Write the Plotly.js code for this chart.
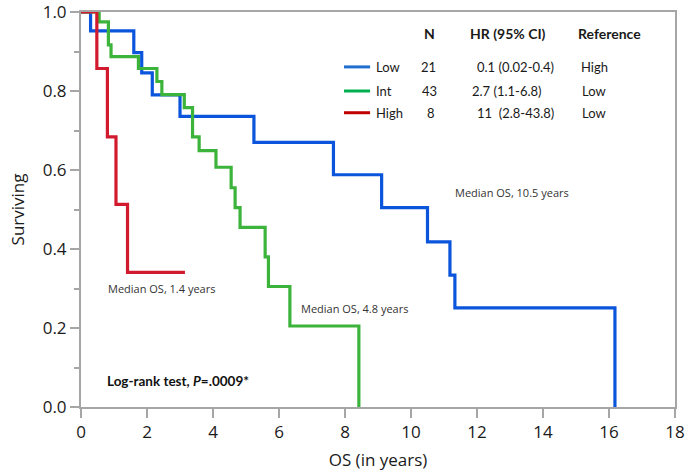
<!DOCTYPE html>
<html>
<head>
<meta charset="utf-8">
<script src="https://cdn.plot.ly/plotly-3.0.1.min.js"></script>
<style>
  html, body { margin: 0; padding: 0; background: #fff; }
  #chart { width: 685px; height: 472px; }
</style>
</head>
<body>
<div id="chart"></div>
<script>
// ---- Data ----
const lowTime  = [0, 0.29, 1.60, 1.84, 2.16, 3.00, 5.24, 7.65, 9.11, 10.50, 11.18, 11.33, 16.18];
const lowSurv  = [1.0, 0.952, 0.897, 0.846, 0.790, 0.736, 0.670, 0.588, 0.505, 0.418, 0.334, 0.251, 0.0];

const intTime  = [0, 0.55, 0.83, 0.91, 1.74, 2.30, 2.45, 3.13, 3.38, 3.58, 4.09, 4.55, 4.67, 4.82, 5.58, 5.68, 6.33, 8.42];
const intSurv  = [1.0, 0.975, 0.917, 0.887, 0.857, 0.824, 0.791, 0.758, 0.684, 0.649, 0.607, 0.555, 0.505, 0.455, 0.380, 0.305, 0.205, 0.0];

const highTime = [0, 0.48, 0.80, 1.06, 1.41, 3.15];
const highSurv = [1.0, 0.857, 0.684, 0.513, 0.341, 0.341];

const groupNames = ["Low", "Int", "High"];
const groupN     = ["21", "43", "8"];
const groupHR    = ["0.1 (0.02-0.4)", "2.7 (1.1-6.8)", "11  (2.8-43.8)"];
const groupRef   = ["High", "Low", "Low"];

const medianLabels = ["Median OS, 10.5 years", "Median OS, 4.8 years", "Median OS, 1.4 years"];
const xTickVals = [0, 2, 4, 6, 8, 10, 12, 14, 16, 18];
const yTickVals = [0.0, 0.2, 0.4, 0.6, 0.8, 1.0];

// ---- Styles ----
const curveColors  = ["#0a55dc", "#3cb43c", "#d21a2e"];
const legendColors = ["#1f6fd0", "#00b050", "#c00000"];
const axisGray = "#a6a6a6";
const tickFont = {family: "Open Sans, sans-serif", size: 17, color: "#1a1a1a"};
const noteFont = {family: "Open Sans, sans-serif", size: 11, color: "#333333"};
const legFont  = {family: "Lato, sans-serif", size: 13, color: "#1a1a1a"};
const legHead  = {family: "Lato, sans-serif", size: 14, color: "#1a1a1a"};

const series = [[lowTime, lowSurv], [intTime, intSurv], [highTime, highSurv]];
const traces = series.map((s, i) => ({
  x: s[0], y: s[1], type: "scatter", mode: "lines",
  line: {shape: "hv", color: curveColors[i], width: 3.2},
  name: groupNames[i], showlegend: false, hoverinfo: "skip"
}));

// ---- Annotations ----
const annotations = [
  {x: 13.06, y: 0.542, text: medianLabels[0]},
  {x: 8.30, y: 0.250, text: medianLabels[1]},
  {x: 2.45, y: 0.300, text: medianLabels[2]}
].map(a => Object.assign({xref: "x", yref: "y", showarrow: false, font: noteFont, xanchor: "center", yanchor: "middle"}, a));

annotations.push({
  xref: "x", yref: "y", x: 0.73, y: 0.065, xanchor: "left", yanchor: "middle",
  showarrow: false, text: "<b>Log-rank test, <i>P</i>=.0009*</b>",
  font: {family: "Lato, sans-serif", size: 13.5, color: "#111111"}
});

// legend table headers
[["N", 10.55], ["HR (95% CI)", 12.94], ["Reference", 16.03]].forEach(h => {
  annotations.push({xref: "x", yref: "y", x: h[1], y: 0.945, xanchor: "center", yanchor: "middle",
    showarrow: false, text: "<b>" + h[0] + "</b>", font: legHead});
});
const rowY = [0.861, 0.800, 0.745];
const nX = [10.52, 10.55, 10.60];
const hrX = [11.94, 11.79, 11.94];
const refX = [15.09, 15.12, 15.12];
const shapes = [];
groupNames.forEach((g, i) => {
  annotations.push({xref: "x", yref: "y", x: 8.88, y: rowY[i], xanchor: "left", yanchor: "middle", showarrow: false, text: g, font: legFont});
  annotations.push({xref: "x", yref: "y", x: nX[i], y: rowY[i], xanchor: "center", yanchor: "middle", showarrow: false, text: groupN[i], font: legFont});
  annotations.push({xref: "x", yref: "y", x: hrX[i], y: rowY[i], xanchor: "left", yanchor: "middle", showarrow: false, text: groupHR[i].replace("  ", "&nbsp; "), font: legFont});
  annotations.push({xref: "x", yref: "y", x: refX[i], y: rowY[i], xanchor: "left", yanchor: "middle", showarrow: false, text: groupRef[i], font: legFont});
  shapes.push({type: "line", xref: "x", yref: "y", x0: 7.97, x1: 8.76, y0: rowY[i], y1: rowY[i],
    line: {color: legendColors[i], width: 3}});
});

const layout = {
  width: 685, height: 472,
  margin: {l: 81, r: 10, t: 12, b: 65},
  paper_bgcolor: "#ffffff", plot_bgcolor: "#ffffff",
  showlegend: false,
  xaxis: {
    range: [0, 18], tickvals: xTickVals, ticktext: xTickVals.map(String),
    showgrid: false, zeroline: false,
    showline: true, linecolor: axisGray, linewidth: 2, mirror: true,
    ticks: "outside", ticklen: 9, tickwidth: 2, tickcolor: axisGray,
    tickfont: tickFont, layer: "below traces", ticklabeloverflow: "allow",
    title: {text: "OS (in years)", font: tickFont, standoff: 12}
  },
  yaxis: {
    range: [0, 1], tickvals: yTickVals, ticktext: yTickVals.map(v => v.toFixed(1)),
    showgrid: false, zeroline: false,
    showline: true, linecolor: axisGray, linewidth: 2, mirror: true,
    ticks: "outside", ticklen: 9, tickwidth: 2, tickcolor: axisGray,
    minor: {dtick: 0.1, ticks: "outside", ticklen: 5, tickwidth: 2, tickcolor: axisGray, showgrid: false},
    tickfont: tickFont, layer: "below traces", ticklabeloverflow: "allow",
    title: {text: "Surviving", font: tickFont, standoff: 14}
  },
  annotations: annotations,
  shapes: shapes
};

Plotly.newPlot("chart", traces, layout, {staticPlot: true, displayModeBar: false});
</script>
</body>
</html>
